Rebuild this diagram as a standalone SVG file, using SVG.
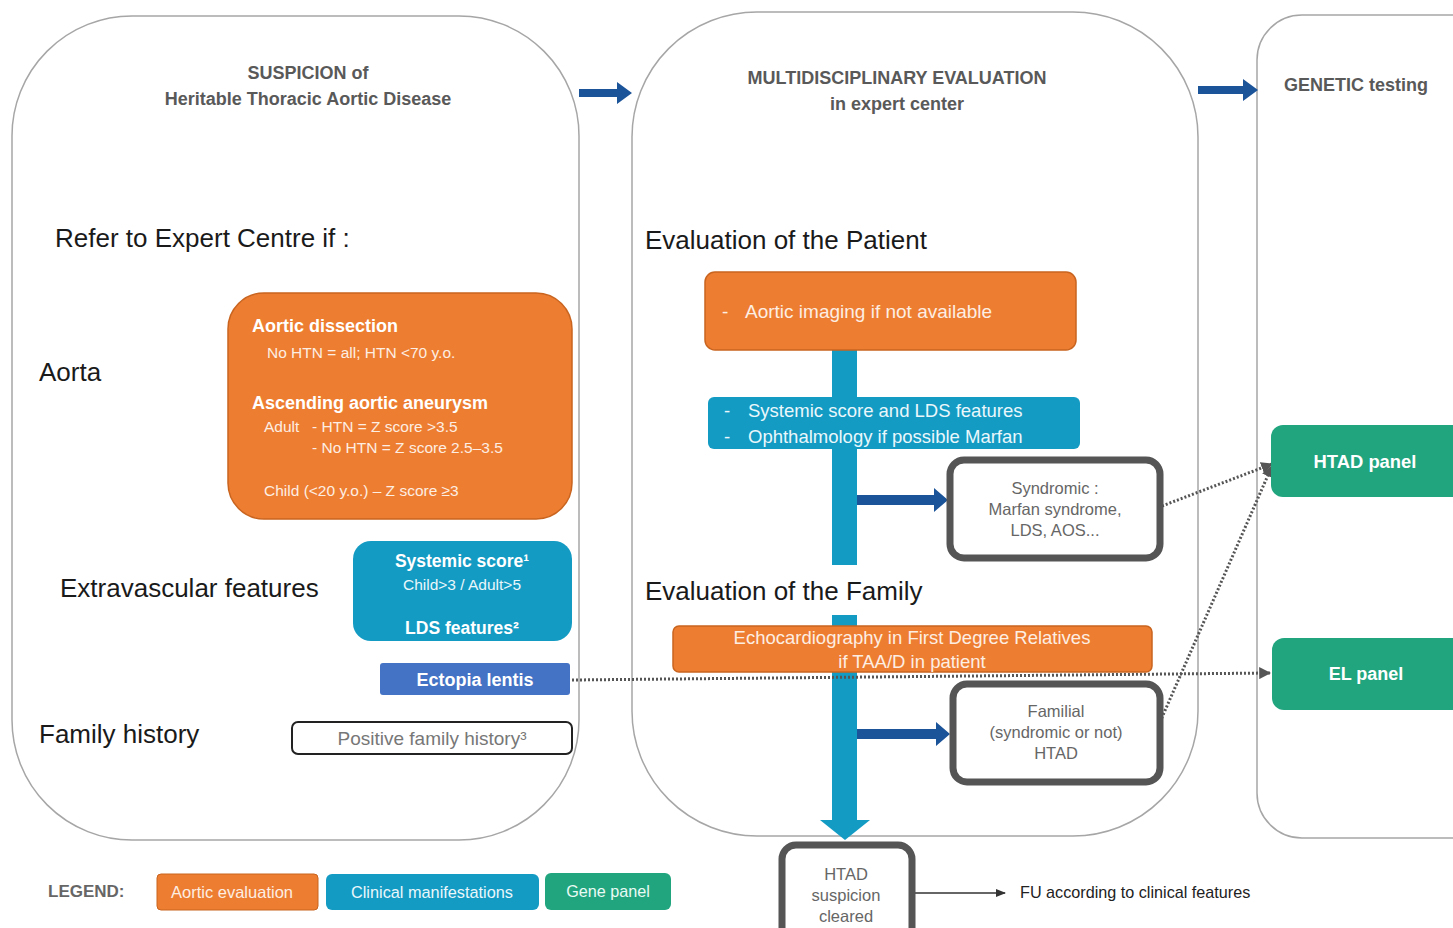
<svg xmlns="http://www.w3.org/2000/svg" width="1453" height="928" viewBox="0 0 1453 928">
<defs>
<style>
text{font-family:"Liberation Sans",Arial,sans-serif}
.panel{fill:#fff;stroke:#a6a6a6;stroke-width:1.5}
.ttl{fill:#595959;font-weight:bold;font-size:18px;text-anchor:middle}
.big{fill:#1a1a1a;font-size:26px}
.org{fill:#ed7d31;stroke:#c9641f;stroke-width:1.5}
.teal{fill:#139bc4}
.grn{fill:#21a57f}
.wt{fill:#fdeee3}
.wc{fill:#eaf7fb}
.wb{fill:#fff;font-weight:bold}
.gbox{fill:#fff;stroke:#555;stroke-width:7}
.gt{fill:#666;font-size:16.5px;text-anchor:middle}
.dot{stroke:#555;stroke-width:3;stroke-dasharray:2 2;fill:none}
.darr{fill:#1c5499}
</style>
<marker id="ah" viewBox="0 0 10 10" refX="9" refY="5" markerWidth="4" markerHeight="4" orient="auto"><path d="M0,0L10,5L0,10z" fill="#555"/></marker>
<marker id="ahk" viewBox="0 0 10 10" refX="9" refY="5" markerWidth="8" markerHeight="8" orient="auto"><path d="M0,1L10,5L0,9z" fill="#333"/></marker>
</defs>

<g id="panel-suspicion">
<rect class="panel" x="12" y="16" width="567" height="824" rx="120"/>
<text class="ttl" x="308" y="79">SUSPICION of</text>
<text class="ttl" x="308" y="105">Heritable Thoracic Aortic Disease</text>
<text class="big" x="55" y="247">Refer to Expert Centre if :</text>
<text class="big" x="39" y="381">Aorta</text>
<text class="big" x="60" y="597">Extravascular features</text>
<text class="big" x="39" y="743">Family history</text>
</g>

<g id="panel-multidisciplinary">
<rect class="panel" x="632" y="12" width="566" height="824" rx="125"/>
<text class="ttl" x="897" y="84">MULTIDISCIPLINARY EVALUATION</text>
<text class="ttl" x="897" y="110">in expert center</text>
<text class="big" x="645" y="249">Evaluation of the Patient</text>
<text class="big" x="645" y="600">Evaluation of the Family</text>
</g>

<g id="panel-genetic">
<rect class="panel" x="1257" y="15" width="240" height="823" rx="45"/>
<text class="ttl" x="1356" y="91">GENETIC testing</text>
</g>

<g id="connectors">
<polygon class="darr" points="579,89 617,89 617,82 632,93 617,104 617,97 579,97"/>
<polygon class="darr" points="1198,86 1243,86 1243,79 1258,90 1243,101 1243,94 1198,94"/>
<rect class="teal" x="832" y="350" width="25" height="215"/>
<rect class="teal" x="832" y="615" width="25" height="207"/>
<polygon class="teal" points="820,820 870,820 845,840"/>
<polygon class="darr" points="857,495 934,495 934,488 948,500 934,512 934,505 857,505"/>
<polygon class="darr" points="857,729 936,729 936,722 950,734 936,746 936,739 857,739"/>
<line class="dot" x1="572" y1="680" x2="1270" y2="673" marker-end="url(#ah)"/>
<line class="dot" x1="1162" y1="506" x2="1272" y2="464" marker-end="url(#ah)"/>
<line class="dot" x1="1160" y1="722" x2="1272" y2="466" marker-end="url(#ah)"/>
<line x1="912" y1="893" x2="1005" y2="893" stroke="#333" stroke-width="1.3" marker-end="url(#ahk)"/>
</g>

<g id="aortic-criteria">
<rect class="org" x="228" y="293" width="344" height="226" rx="36"/>
<text class="wb" x="252" y="332" font-size="18">Aortic dissection</text>
<text class="wt" x="267" y="358" font-size="15.5">No HTN = all; HTN &lt;70 y.o.</text>
<text class="wb" x="252" y="409" font-size="18">Ascending aortic aneurysm</text>
<text class="wt" x="264" y="432" font-size="15.5">Adult</text>
<text class="wt" x="312" y="432" font-size="15.5">- HTN = Z score &gt;3.5</text>
<text class="wt" x="312" y="453" font-size="15.5">- No HTN = Z score 2.5–3.5</text>
<text class="wt" x="264" y="496" font-size="15.5">Child (&lt;20 y.o.) – Z score ≥3</text>
</g>

<g id="systemic-score">
<rect class="teal" x="353" y="541" width="219" height="100" rx="18"/>
<text class="wb" x="462" y="567" font-size="17.5" text-anchor="middle">Systemic score¹</text>
<text class="wc" x="462" y="590" font-size="15.5" text-anchor="middle">Child&gt;3 / Adult&gt;5</text>
<text class="wb" x="462" y="634" font-size="17.5" text-anchor="middle">LDS features²</text>
</g>

<g id="ectopia-lentis">
<rect x="380" y="663" width="190" height="32" rx="3" fill="#4472c4"/>
<text class="wb" x="475" y="686" font-size="18" text-anchor="middle">Ectopia lentis</text>
</g>

<g id="family-history">
<rect x="292" y="722" width="280" height="32" rx="6" fill="#fff" stroke="#222" stroke-width="2"/>
<text x="432" y="745" font-size="19" fill="#777" text-anchor="middle">Positive family history³</text>
</g>

<g id="aortic-imaging">
<rect class="org" x="705" y="272" width="371" height="78" rx="10"/>
<text class="wt" x="722" y="318" font-size="19">-</text>
<text class="wt" x="745" y="318" font-size="19">Aortic imaging if not available</text>
</g>

<g id="clinical-eval">
<rect class="teal" x="708" y="397" width="372" height="52" rx="6"/>
<text class="wc" x="724" y="417" font-size="18.5">-</text>
<text class="wc" x="748" y="417" font-size="18.5">Systemic score and LDS features</text>
<text class="wc" x="724" y="443" font-size="18.5">-</text>
<text class="wc" x="748" y="443" font-size="18.5">Ophthalmology if possible Marfan</text>
</g>

<g id="syndromic">
<rect class="gbox" x="950" y="460" width="210" height="98" rx="14"/>
<text class="gt" x="1055" y="494">Syndromic :</text>
<text class="gt" x="1055" y="515">Marfan syndrome,</text>
<text class="gt" x="1055" y="536">LDS, AOS...</text>
</g>

<g id="echocardiography">
<rect class="org" x="673" y="626" width="479" height="46" rx="6"/>
<text class="wt" x="912" y="644" font-size="18.5" text-anchor="middle">Echocardiography in First Degree Relatives</text>
<text class="wt" x="912" y="668" font-size="18.5" text-anchor="middle">if TAA/D in patient</text>
</g>

<g id="familial">
<rect class="gbox" x="953" y="684" width="207" height="98" rx="14"/>
<text class="gt" x="1056" y="717">Familial</text>
<text class="gt" x="1056" y="738">(syndromic or not)</text>
<text class="gt" x="1056" y="759">HTAD</text>
</g>

<g id="cleared">
<rect class="gbox" x="782" y="845" width="130" height="100" rx="14"/>
<text class="gt" x="846" y="880">HTAD</text>
<text class="gt" x="846" y="901">suspicion</text>
<text class="gt" x="846" y="922">cleared</text>
<text x="1020" y="898" font-size="16.2" fill="#222">FU according to clinical features</text>
</g>

<g id="htad-panel">
<rect class="grn" x="1271" y="425" width="200" height="72" rx="12"/>
<text class="wb" x="1365" y="468" font-size="18.4" text-anchor="middle">HTAD panel</text>
</g>

<g id="el-panel">
<rect class="grn" x="1272" y="638" width="200" height="72" rx="12"/>
<text class="wb" x="1366" y="680" font-size="18" text-anchor="middle">EL panel</text>
</g>

<g id="legend">
<text x="48" y="897" font-size="17" font-weight="bold" fill="#666">LEGEND:</text>
<rect x="157" y="874" width="161" height="36" rx="4" fill="#ed7d31" stroke="#c9641f"/>
<text x="232" y="898" font-size="16.5" fill="#fdeee3" text-anchor="middle">Aortic evaluation</text>
<rect x="326" y="874" width="213" height="36" rx="6" fill="#139bc4"/>
<text x="432" y="898" font-size="16.3" fill="#eaf7fb" text-anchor="middle">Clinical manifestations</text>
<rect x="545" y="873" width="126" height="37" rx="6" fill="#21a57f"/>
<text x="608" y="897" font-size="16.2" fill="#eafaf4" text-anchor="middle">Gene panel</text>
</g>
</svg>
